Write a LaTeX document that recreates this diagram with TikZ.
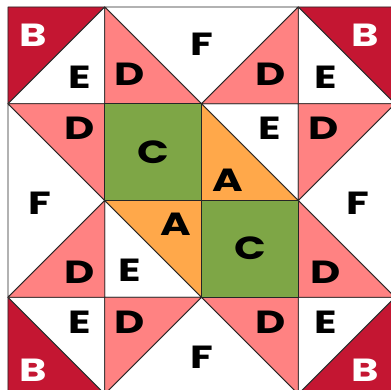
\documentclass[tikz,border=0pt]{standalone}
\usepackage{fontspec}
\newfontfamily\quiltfont{Poppins}[FakeStretch=1.3]
\usepackage{tikz}
\usetikzlibrary{positioning}

\definecolor{qred}{RGB}{196,22,50}
\definecolor{qpink}{RGB}{255,130,130}
\definecolor{qgreen}{RGB}{126,166,70}
\definecolor{qorange}{RGB}{255,168,74}

\begin{document}
\begin{tikzpicture}[x=96.75pt, y=-96.75pt,
  pc/.style={fill=#1, draw=black!85, line width=0.8pt, line join=round},
  lb/.style={font=\quiltfont\bfseries\fontsize{32}{32}\selectfont,
             text=#1, inner sep=0pt},
]
\useasboundingbox (-8pt,7pt) rectangle (383pt,-383pt);
\clip (-8pt,7pt) rectangle (383pt,-383pt);
\fill[white] (-8pt,7pt) rectangle (383pt,-383pt);

% corner triangles
\foreach \p in {{(0,0)--(1,0)--(0,1)}, {(3,0)--(4,0)--(4,1)},
                {(0,3)--(0,4)--(1,4)}, {(4,3)--(4,4)--(3,4)}}
  \draw[pc=qred] \p -- cycle;
\foreach \p in {{(1,0)--(1,1)--(0,1)}, {(3,0)--(4,1)--(3,1)},
                {(0,3)--(1,3)--(1,4)}, {(4,3)--(3,4)--(3,3)},
                {(2,1)--(3,1)--(3,2)}, {(1,2)--(2,3)--(1,3)}}
  \draw[pc=white] \p -- cycle;
% flying geese
\foreach \p in {{(1,0)--(3,0)--(2,1)}, {(0,1)--(1,2)--(0,3)},
                {(4,1)--(4,3)--(3,2)}, {(1,4)--(2,3)--(3,4)}}
  \draw[pc=white] \p -- cycle;
\foreach \p in {{(1,0)--(1,1)--(2,1)}, {(3,0)--(2,1)--(3,1)},
                {(0,1)--(1,1)--(1,2)}, {(1,2)--(1,3)--(0,3)},
                {(3,1)--(4,1)--(3,2)}, {(3,2)--(3,3)--(4,3)},
                {(1,3)--(2,3)--(1,4)}, {(2,3)--(3,3)--(3,4)}}
  \draw[pc=qpink] \p -- cycle;
% centre
\draw[pc=qgreen] (1,1) rectangle (2,2);
\draw[pc=qgreen] (2,2) rectangle (3,3);
\draw[pc=qorange] (2,1) -- (2,2) -- (3,2) -- cycle;
\draw[pc=qorange] (1,2) -- (2,2) -- (2,3) -- cycle;

% labels
\node[lb=white] (b1) at (0.26,0.29) {B};
\node[lb=white] (b2) at (3.69,0.29) {B};
\node[lb=white] (b3) at (0.26,3.75) {B};
\node[lb=white] (b4) at (3.69,3.75) {B};

\node[lb=black] (c1) at (1.50,1.50) {C};
\node[lb=black] (c2) at (2.50,2.49) {C};
\node[lb=black] (a1) at (2.27,1.79) {A};
\node[lb=black] (a2) at (1.73,2.25) {A};

\node[lb=black] (f1) at (2.00,0.39) {F};
\node[lb=black] (f2) at (0.33,2.03) {F};
\node[lb=black] (f3) at (3.62,2.03) {F};
\node[lb=black] (f4) at (2.00,3.62) {F};

\node[lb=black] (e1) at (0.74,0.73) {E};
\node[lb=black] (e2) at (3.28,0.73) {E};
\node[lb=black] (e3) at (2.71,1.25) {E};
\node[lb=black] (e4) at (1.26,2.72) {E};
\node[lb=black] (e5) at (0.74,3.26) {E};
\node[lb=black] (e6) at (3.28,3.26) {E};

\node[lb=black] (d1) at (1.26,0.70) {D};
\node[lb=black] (d2) at (2.71,0.70) {D};
\node[lb=black] (d3) at (0.74,1.25) {D};
\node[lb=black] (d4) at (3.26,1.25) {D};
\node[lb=black] (d5) at (0.74,2.74) {D};
\node[lb=black] (d6) at (3.28,2.74) {D};
\node[lb=black] (d7) at (1.26,3.26) {D};
\node[lb=black] (d8) at (2.71,3.26) {D};
\end{tikzpicture}
\end{document}
